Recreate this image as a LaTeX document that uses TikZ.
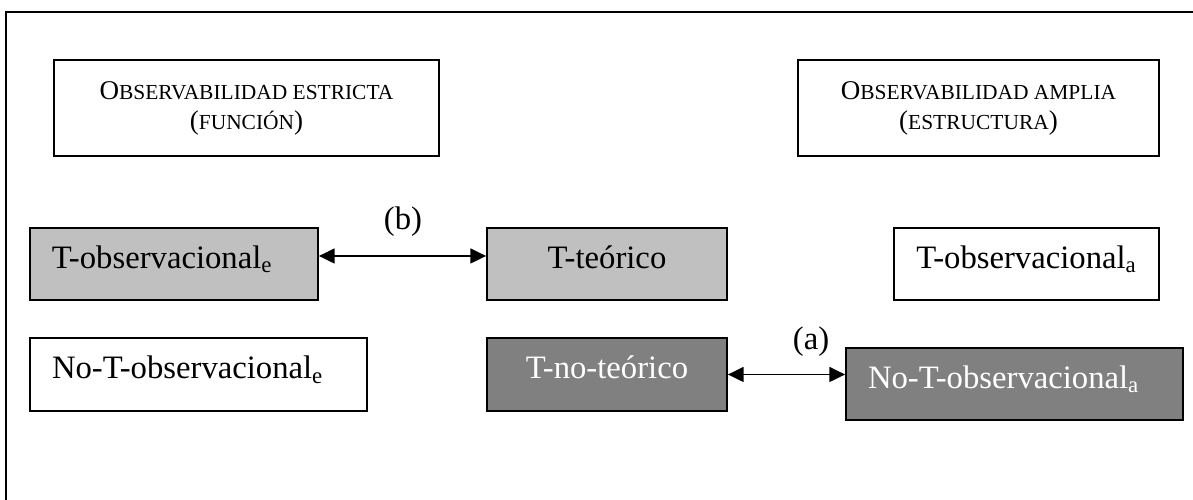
\documentclass[tikz,border=0pt]{standalone}
\usepackage{fontspec}
\setmainfont{Liberation Serif}
\usepackage{xcolor}
\usetikzlibrary{arrows.meta}
\definecolor{lightfill}{HTML}{C0C0C0}
\definecolor{darkfill}{HTML}{808080}
\newcommand{\scaps}[1]{{\fontsize{12.2}{17}\selectfont #1}}
\tikzset{
  frame/.style={draw=black, line width=1pt},
  box/.style={draw=black, line width=1pt, inner ysep=0pt, minimum height=1.44cm,
    font=\fontsize{18.6}{22}\selectfont, text height=13pt, text depth=8.4pt},
  boxl/.style={box, fill=lightfill},
  boxd/.style={box, fill=darkfill, text=white},
  lefttxt/.style={inner xsep=0.44cm, align=left},
  hdr/.style={draw=black, line width=1pt, minimum height=1.92cm, align=center,
    font=\fontsize{15.4}{17}\selectfont},
  link/.style={draw=black, line width=1pt,
    {Triangle[length=9pt,width=8.5pt]}-{Triangle[length=9pt,width=8.5pt]}},
  lab/.style={font=\fontsize{18.6}{22}\selectfont},
}
\begin{document}
\begin{tikzpicture}
  \useasboundingbox (0,0) rectangle (23.86,10);
  \draw[frame] (0.12,-1) -- (0.12,9.76) -- (25,9.76);

  % headers
  \node[hdr, minimum width=7.70cm] (hdre) at (4.93,7.84)
    {O\scaps{BSERVABILIDAD ESTRICTA}\\(\scaps{FUNCIÓN})};
  \node[hdr, minimum width=7.22cm] (hdra) at (19.57,7.84)
    {O\scaps{BSERVABILIDAD AMPLIA}\\(\scaps{ESTRUCTURA})};

  % upper row
  \node[boxl, lefttxt, text width=4.88cm] (tobse) at (3.48,4.72) {T-observacional\textsubscript{e}};
  \node[boxl, minimum width=4.80cm] (tteo) at (12.14,4.72) {T-teórico};
  \node[box, minimum width=5.30cm] (tobsa) at (20.53,4.72) {T-observacional\textsubscript{a}};

  % lower row
  \node[box, lefttxt, text width=5.86cm, minimum height=1.46cm] (noobse) at (3.97,2.51) {No-T-observacional\textsubscript{e}};
  \node[boxd, minimum width=4.80cm, minimum height=1.46cm] (tnoteo) at (12.14,2.51) {T-no-teórico};
  \node[boxd, lefttxt, text width=5.86cm] (noobsa) at (20.29,2.32) {No-T-observacional\textsubscript{a}};

  % relations
  \draw[link] ([yshift=0.16cm]tobse.east) -- ([yshift=0.16cm]tteo.west);
  \node[lab] (labb) at (8.06,5.56) {(b)};
  \draw[link] (tnoteo.east) -- (tnoteo.east -| noobsa.west);
  \node[lab] (laba) at (16.22,3.16) {(a)};
\end{tikzpicture}
\end{document}
